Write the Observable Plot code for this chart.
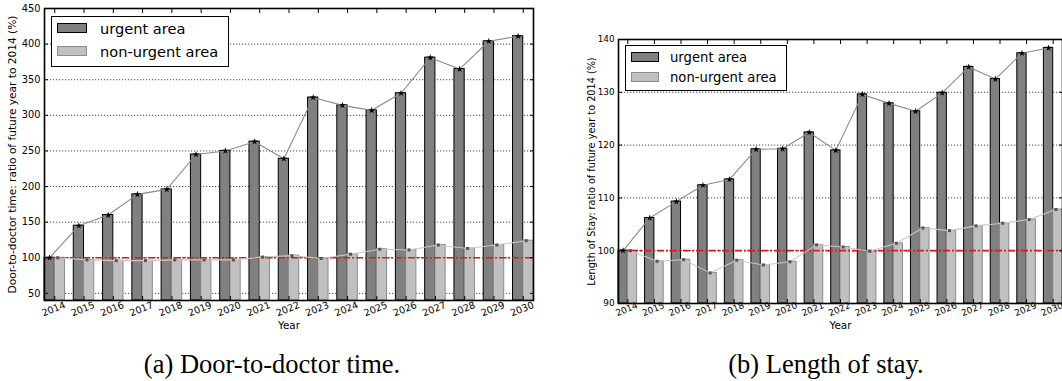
<!DOCTYPE html>
<html><head><meta charset="utf-8">
<script src="https://cdn.jsdelivr.net/npm/d3@7"></script>
<script src="https://cdn.jsdelivr.net/npm/@observablehq/plot@0.6"></script>
<style>
body{margin:0;background:#fff;}
#wrap{position:relative;width:1062px;height:381px;overflow:hidden;font-family:"DejaVu Sans",sans-serif;background:#fff;}
.panel{position:absolute;top:0;}
.legend{position:absolute;border:1px solid #000;background:#fff;box-sizing:border-box;}
.legend .row{position:absolute;display:flex;align-items:center;white-space:nowrap;}
.legend .sw{box-sizing:border-box;border:1px solid #000;}
.caption{position:absolute;font-family:"Liberation Serif",serif;font-size:26.5px;color:#000;white-space:nowrap;transform:translateX(-50%);}
</style></head><body><div id="wrap"></div><script>
const years = [2014,2015,2016,2017,2018,2019,2020,2021,2022,2023,2024,2025,2026,2027,2028,2029,2030];
const urgentDoor = [100,145,160,189,196,245,250,263,239,325,314,307,331,381,365,404,411];
const nonUrgentDoor = [100,97,96,96,97,97,97,101,103,99,105,112,111,118,113,118,124];
const urgentStay = [100,106.2,109.3,112.4,113.5,119.2,119.3,122.4,119.0,129.6,127.9,126.4,129.9,134.8,132.5,137.4,138.4];
const nonUrgentStay = [100,98.0,98.3,95.8,98.2,97.3,97.9,101.1,100.7,99.9,101.4,104.3,103.8,104.7,105.2,105.9,107.8];
const doorTicks = [50,100,150,200,250,300,350,400,450];
const stayTicks = [90,100,110,120,130,140];
const seriesNames = ["urgent area","non-urgent area"];
const doorLabel = "Door-to-doctor time: ratio of future year to 2014 (%)";
const stayLabel = "Length of Stay: ratio of future year to 2014 (%)";
const captions = ["(a) Door-to-doctor time.","(b) Length of stay."];
const baseline = 100;

const W = 0.35;
function panel({urgent, nonUrgent, yDomain, yTicks, yLabel, width, height, mt, mb, ml, mr, tickFont, xTickFont, labelFont, labelDx, xTickDy, yearDy}) {
  const data = years.map((year, i) => ({year, i, u: urgent[i], n: nonUrgent[i]}));
  const xt = years.map((y, i) => i + W);
  return Plot.plot({
    width, height, marginTop: mt, marginBottom: mb, marginLeft: ml, marginRight: mr,
    style: {fontFamily: "DejaVu Sans", fontSize: tickFont + "px", background: "transparent", overflow: "visible", color: "#000"},
    x: {type: "linear", domain: [0, 16.7]},
    y: {domain: yDomain},
    marks: [
      Plot.gridY(yTicks, {stroke: "#000", strokeOpacity: 0.72, strokeDasharray: "1.2,1.8"}),
      Plot.rect(data, {x1: d => d.i, x2: d => d.i + W, y1: yDomain[0], y2: d => d.u, fill: "#808080", stroke: "#000", strokeWidth: 1}),
      Plot.rect(data, {x1: d => d.i + W, x2: d => d.i + 2 * W, y1: yDomain[0], y2: d => d.n, fill: "#c0c0c0", stroke: "#8c8c8c", strokeWidth: 1}),
      Plot.ruleY([baseline], {stroke: "#e01818", strokeWidth: 1.7, strokeDasharray: "7,2,2,2"}),
      Plot.line(data, {x: d => d.i + W / 2, y: d => d.u, stroke: "#8a8a8a", strokeWidth: 1.1}),
      Plot.line(data, {x: d => d.i + W + 0.1, y: d => d.n, stroke: "#c8c8c8", strokeWidth: 1.1}),
      Plot.dot(data, {x: d => d.i + W / 2, y: d => d.u, symbol: "star", r: 2.1, fill: "#000"}),
      Plot.dot(data, {x: d => d.i + W + 0.1, y: d => d.n, symbol: "square", r: 1.7, fill: "#555"}),
      Plot.frame({stroke: "#000", strokeWidth: 1.6}),
      Plot.axisY(yTicks, {anchor: "left", tickSize: -4, tickPadding: 8, tickFormat: d => String(d), fontSize: tickFont}),
      Plot.axisY(yTicks, {anchor: "right", tickSize: -4, tickFormat: () => ""}),
      Plot.axisX(xt, {anchor: "top", tickSize: -4, tickFormat: () => ""}),
      Plot.axisX(xt, {anchor: "bottom", tickSize: -4, tickFormat: () => ""}),
      Plot.text(data, {x: d => d.i + W, frameAnchor: "bottom", dy: xTickDy, rotate: -22, text: d => String(d.year), fontSize: xTickFont, fill: "#000", textAnchor: "middle"}),
      Plot.text(["Year"], {frameAnchor: "bottom", dy: yearDy, text: d => d, fontSize: 10.4, fill: "#000", textAnchor: "middle"}),
      Plot.text([yLabel], {frameAnchor: "left", dx: labelDx, rotate: -90, text: d => d, fontSize: labelFont, fill: "#000", textAnchor: "middle"})
    ]
  });
}

const wrap = document.getElementById("wrap");
const p1 = panel({urgent: urgentDoor, nonUrgent: nonUrgentDoor, yDomain: [40, 450], yTicks: doorTicks, yLabel: doorLabel,
  width: 545, height: 345, mt: 8, mb: 45, ml: 44, mr: 12, tickFont: 9.8, xTickFont: 9.6, labelFont: 10.6, labelDx: -31.5, xTickDy: 11.5, yearDy: 28});
p1.classList.add("panel"); p1.style.left = "0px";
wrap.appendChild(p1);
const p2 = panel({urgent: urgentStay, nonUrgent: nonUrgentStay, yDomain: [90, 140], yTicks: stayTicks, yLabel: stayLabel,
  width: 517, height: 345, mt: 39, mb: 42, ml: 73, mr: 0, tickFont: 8.8, xTickFont: 9, labelFont: 9.7, labelDx: -27, xTickDy: 8.5, yearDy: 25.5});
p2.classList.add("panel"); p2.style.left = "545px";
wrap.appendChild(p2);

function legend(left, top, w, h, fs, sw, rows) {
  const el = document.createElement("div");
  el.className = "legend";
  Object.assign(el.style, {left: left + "px", top: top + "px", width: w + "px", height: h + "px", fontSize: fs + "px"});
  const fills = [["#808080", "#000"], ["#c0c0c0", "#8c8c8c"]];
  seriesNames.forEach((name, k) => {
    const r = document.createElement("div");
    r.className = "row";
    Object.assign(r.style, {left: rows.x + "px", top: rows.y[k] + "px", height: sw.h + "px"});
    const s = document.createElement("div");
    s.className = "sw";
    Object.assign(s.style, {width: sw.w + "px", height: sw.h + "px", background: fills[k][0], borderColor: fills[k][1], marginRight: sw.gap + "px"});
    const t = document.createElement("span");
    t.textContent = name;
    r.appendChild(s); r.appendChild(t);
    el.appendChild(r);
  });
  wrap.appendChild(el);
}
legend(51, 16, 178, 51, 14.6, {w: 30, h: 10, gap: 13}, {x: 5, y: [6, 29]});
legend(625, 45, 162, 46, 13.2, {w: 28, h: 10, gap: 11}, {x: 5, y: [6, 26]});

[[captions[0], 272], [captions[1], 826]].forEach(([txt, cx]) => {
  const c = document.createElement("div");
  c.className = "caption";
  c.textContent = txt;
  c.style.left = cx + "px";
  c.style.top = "349px";
  wrap.appendChild(c);
});
</script></body></html>
